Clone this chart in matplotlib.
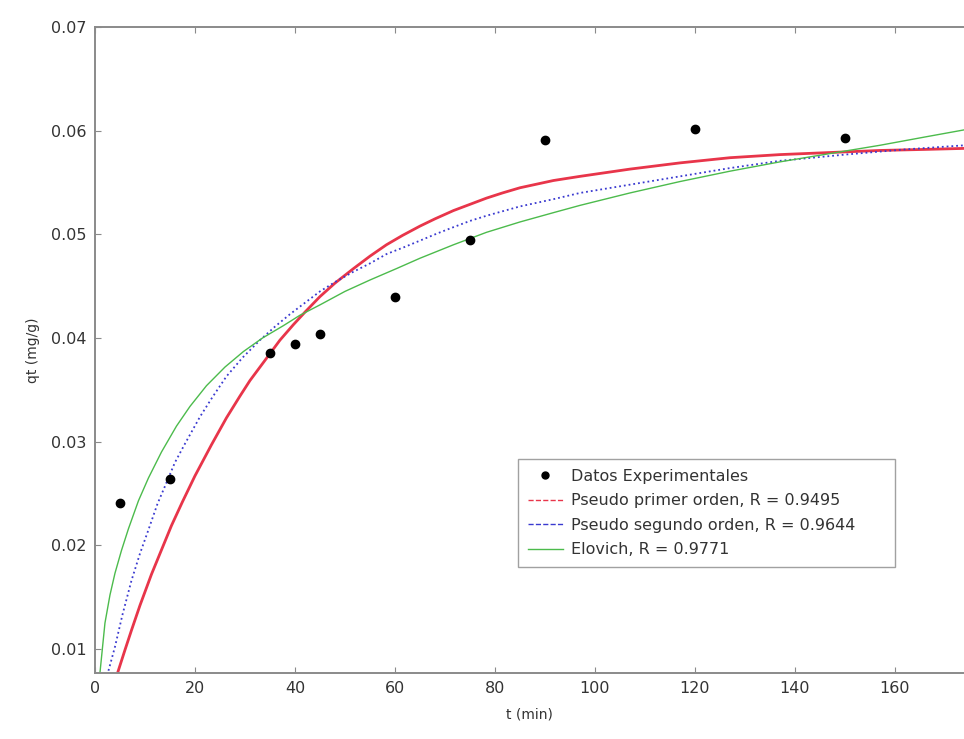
import numpy as np
import matplotlib
matplotlib.use("Agg")
import matplotlib.pyplot as plt

# experimental data
t_exp = [5, 15, 35, 40, 45, 60, 75, 90, 120, 150]
q_exp = [0.0241, 0.0264, 0.0386, 0.0394, 0.0404, 0.0440, 0.0495, 0.0591, 0.0602, 0.0593]

# fitted curves
t_pfo = [4.6, 6, 7.3, 9, 11.3, 13, 15.3, 17.5, 20, 23.3, 26.3, 29, 31, 34.7, 37, 39.7, 42, 45,
         48, 51.7, 55, 58.3, 61.5, 65, 68, 71.7, 75, 78.3, 81.5, 85, 91.7, 97, 107, 117, 127,
         137, 147, 157, 166, 174]
q_pfo = [0.0078, 0.0099, 0.0118, 0.0142, 0.0172, 0.0192, 0.0219, 0.0242, 0.0267, 0.0297,
         0.0323, 0.0344, 0.0359, 0.0383, 0.0398, 0.0413, 0.0425, 0.0440, 0.0453, 0.0467,
         0.0479, 0.0490, 0.0499, 0.0508, 0.0515, 0.0523, 0.0529, 0.0535, 0.0540, 0.0545,
         0.0552, 0.0556, 0.0563, 0.0569, 0.0574, 0.0577, 0.0579, 0.0581, 0.0582, 0.0583]

t_pso = [2.7, 4, 5.5, 7.3, 9, 10.7, 12.5, 14, 16, 18, 21, 23.5, 26.3, 29.5, 33, 36, 39, 42, 45,
         48, 51.7, 55, 58.3, 62, 65, 68.5, 71.7, 75, 78.3, 85, 91.7, 97, 107, 117, 127, 137,
         150, 162, 174]
q_pso = [0.0079, 0.0102, 0.0133, 0.0166, 0.0192, 0.0215, 0.0240, 0.0257, 0.0280, 0.0298,
         0.0324, 0.0343, 0.0363, 0.0381, 0.0398, 0.0411, 0.0423, 0.0434, 0.0445, 0.0454,
         0.0464, 0.0472, 0.0481, 0.0488, 0.0494, 0.0501, 0.0507, 0.0513, 0.0518, 0.0527,
         0.0534, 0.0540, 0.0548, 0.0556, 0.0564, 0.0571, 0.0577, 0.0582, 0.0586]

t_elo = [1.0, 2, 3, 4, 5.3, 6.7, 8.7, 10.7, 13.3, 16.3, 19, 22.3, 26, 29.7, 33.5, 37.7, 41, 45,
         50, 55, 60.3, 65, 71.7, 78.3, 85, 91.7, 97, 107, 117, 127, 137, 147, 157, 166, 174]
q_elo = [0.0077, 0.0125, 0.0152, 0.0173, 0.0195, 0.0216, 0.0243, 0.0265, 0.0290, 0.0315,
         0.0334, 0.0354, 0.0372, 0.0387, 0.0400, 0.0412, 0.0422, 0.0432, 0.0445, 0.0456,
         0.0467, 0.0477, 0.0490, 0.0502, 0.0512, 0.0521, 0.0528, 0.0540, 0.0551, 0.0561,
         0.0570, 0.0578, 0.0586, 0.0594, 0.0601]

labels = ["Datos Experimentales",
          "Pseudo primer orden, R = 0.9495",
          "Pseudo segundo orden, R = 0.9644",
          "Elovich, R = 0.9771"]

fig = plt.figure(figsize=(9.64, 7.39), dpi=100)
ax = fig.add_axes([0.0985, 0.0893, 0.9015, 0.874])

ax.plot(t_exp, q_exp, "o", color="black", markersize=6, zorder=5)
ax.plot(t_pfo, q_pfo, "-", color="#e8354a", lw=2.0)
ax.plot(t_pso, q_pso, ":", color="#3a3ad0", lw=1.3)
ax.plot(t_elo, q_elo, "-", color="#4cbb4c", lw=1.0)

ax.set_xlim(0, 173.8)
ax.set_ylim(0.00768, 0.07)
ax.set_xticks(np.arange(0, 161, 20))
ax.set_yticks([0.01, 0.02, 0.03, 0.04, 0.05, 0.06, 0.07])
ax.set_yticklabels(["0.01", "0.02", "0.03", "0.04", "0.05", "0.06", "0.07"])

for s in ["left", "bottom", "top"]:
    ax.spines[s].set_color("#8a8a8a")
    ax.spines[s].set_linewidth(1.4)
ax.spines["right"].set_visible(False)
ax.tick_params(direction="in", length=4, color="#8a8a8a", labelsize=11.5,
               labelcolor="#333333", top=True, pad=6)

ax.set_xlabel("t (min)", fontsize=10, color="#333333", labelpad=8)
ax.set_ylabel("qt (mg/g)", fontsize=10, color="#333333", labelpad=8)

leg_handles = [
    plt.Line2D([], [], ls="none", marker="o", color="black", markersize=5),
    plt.Line2D([], [], ls="--", color="#e8354a", lw=1.0),
    plt.Line2D([], [], ls="--", color="#3a3ad0", lw=1.0),
    plt.Line2D([], [], ls="-", color="#4cbb4c", lw=1.0),
]
leg = ax.legend(leg_handles, labels, loc="lower left",
                bbox_to_anchor=(0.478, 0.152, 0.452, 0.213), mode="expand",
                fontsize=11.5, frameon=True, fancybox=False, handlelength=2.2,
                borderpad=0.6, labelspacing=0.6, handletextpad=0.5)
leg.get_frame().set_edgecolor("#8a8a8a")
leg.get_frame().set_linewidth(1.0)
for txt in leg.get_texts():
    txt.set_color("#333333")

fig.savefig("out.png", dpi=100)
